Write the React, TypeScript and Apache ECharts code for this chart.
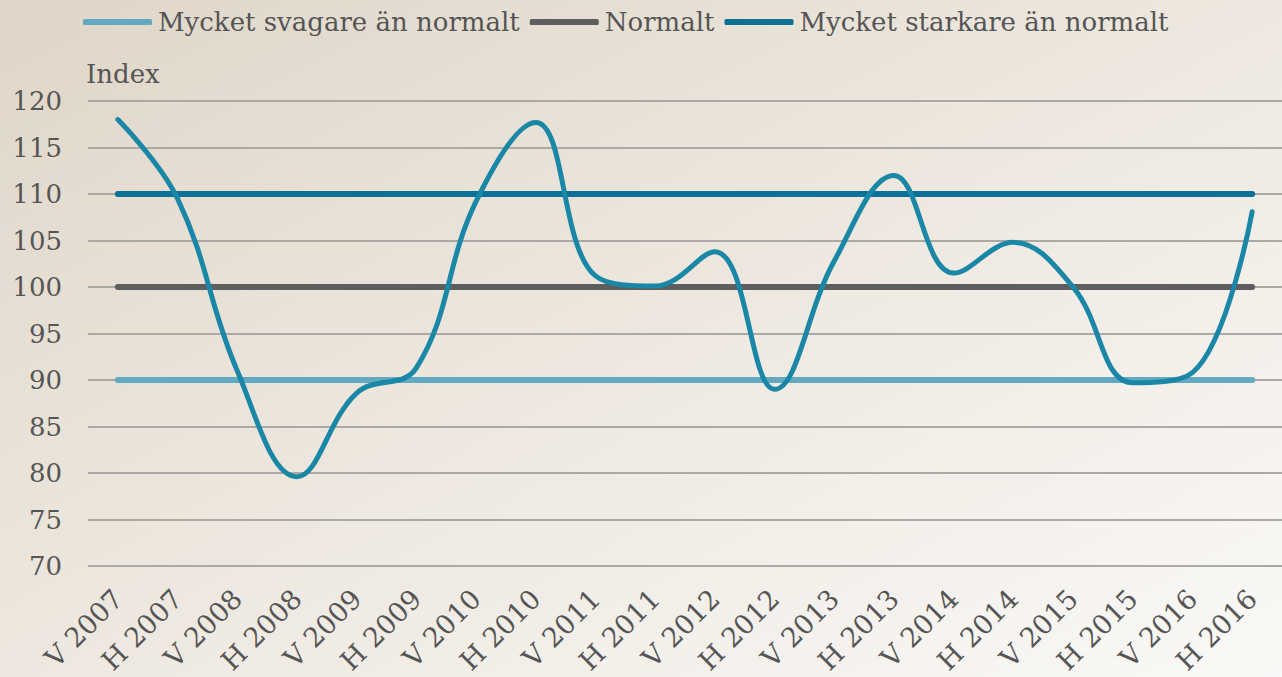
import React, { useEffect, useRef } from "react";
import * as echarts from "echarts";

const categories = [
  "V 2007", "H 2007", "V 2008", "H 2008", "V 2009", "H 2009", "V 2010", "H 2010",
  "V 2011", "H 2011", "V 2012", "H 2012", "V 2013", "H 2013", "V 2014", "H 2014",
  "V 2015", "H 2015", "V 2016", "H 2016",
];

const indexValues = [
  118, 109.5, 91, 79.6, 88.6, 91.3, 109.2, 117.7,
  101.2, 100.1, 103.8, 89, 102.8, 112, 101.5, 104.8,
  100, 89.7, 90.8, 108.1,
];

const svagare = [90, 90, 90, 90, 90, 90, 90, 90, 90, 90, 90, 90, 90, 90, 90, 90, 90, 90, 90, 90];
const normalt = [100, 100, 100, 100, 100, 100, 100, 100, 100, 100, 100, 100, 100, 100, 100, 100, 100, 100, 100, 100];
const starkare = [110, 110, 110, 110, 110, 110, 110, 110, 110, 110, 110, 110, 110, 110, 110, 110, 110, 110, 110, 110];

const legendNames = ["Mycket svagare än normalt", "Normalt", "Mycket starkare än normalt"];

const FONT = "DejaVu Serif";
const TEXT = "#555555";

export default function App() {
  const ref = useRef<HTMLDivElement>(null);

  useEffect(() => {
    if (!ref.current) return;
    const chart = echarts.init(ref.current, undefined, { renderer: "svg" });
    const refLine = (name: string, data: number[], color: string) => ({
      name,
      type: "line",
      data,
      symbol: "none",
      lineStyle: { color, width: 6, cap: "round" },
      itemStyle: { color },
      z: 2,
    });
    chart.setOption({
      animation: false,
      backgroundColor: "transparent",
      textStyle: { fontFamily: FONT, color: TEXT },
      legend: {
        data: legendNames,
        left: 83,
        top: 9,
        padding: 0,
        icon: "roundRect",
        itemWidth: 69,
        itemHeight: 6,
        itemGap: 10,
        textStyle: { fontFamily: FONT, fontSize: 26, color: TEXT, padding: [0, 0, 0, 1] },
      },
      grid: { left: 88, top: 101, bottom: 109, width: 1206, containLabel: false },
      xAxis: {
        type: "category",
        data: categories,
        boundaryGap: true,
        axisLine: { show: false },
        axisTick: { show: false },
        axisLabel: {
          rotate: 45,
          interval: 0,
          margin: 28,
          fontFamily: FONT,
          fontSize: 27,
          color: TEXT,
        },
      },
      yAxis: {
        type: "value",
        min: 70,
        max: 120,
        interval: 5,
        name: "Index",
        nameLocation: "end",
        nameGap: 14,
        nameTextStyle: { fontFamily: FONT, fontSize: 26, color: TEXT, align: "left", padding: [0, 0, 0, -2] },
        axisLine: { show: false },
        axisTick: { show: false },
        axisLabel: { fontFamily: FONT, fontSize: 26, color: TEXT, margin: 26 },
        splitLine: { lineStyle: { color: "#aba9a6", width: 2 } },
      },
      series: [
        refLine(legendNames[0], svagare, "#62a9c1"),
        refLine(legendNames[1], normalt, "#5e5e5e"),
        refLine(legendNames[2], starkare, "#0b7196"),
        {
          name: "Index",
          type: "line",
          data: indexValues,
          symbol: "none",
          smooth: 0.4,
          lineStyle: { color: "#1b87a6", width: 5, cap: "round" },
          itemStyle: { color: "#1b87a6" },
          z: 3,
        },
      ],
    });
    return () => chart.dispose();
  }, []);

  return (
    <div
      style={{
        position: "fixed",
        left: 0,
        top: 0,
        width: 1282,
        height: 677,
        background: "linear-gradient(to bottom right, #dfd6c8 0%, #ece6dd 45%, #faf9f7 100%)",
      }}
    >
      <div ref={ref} style={{ width: 1282, height: 677 }} />
    </div>
  );
}
